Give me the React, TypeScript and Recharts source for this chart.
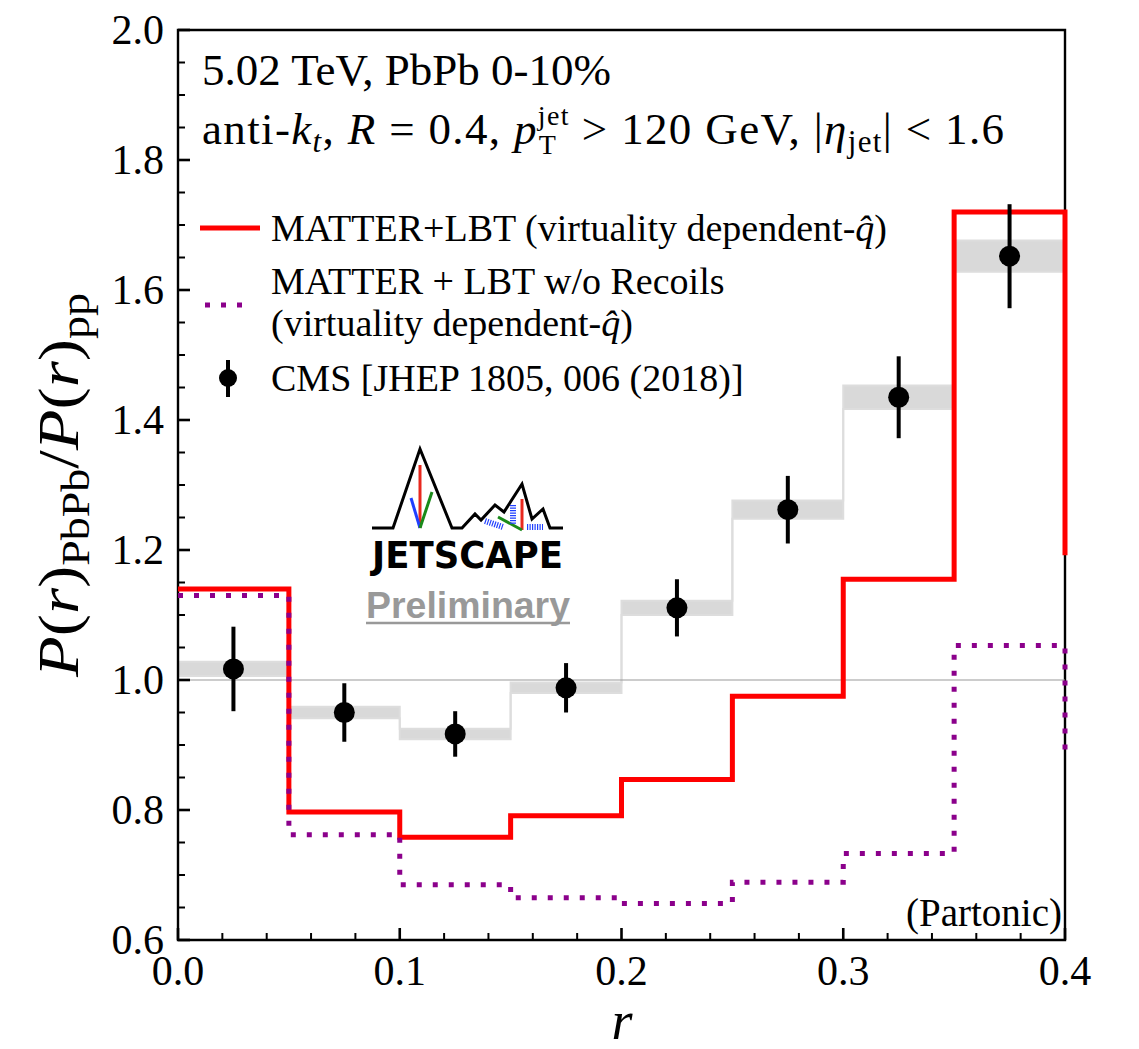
import React from "react";
import {
  ComposedChart,
  Line,
  Area,
  Scatter,
  ErrorBar,
  XAxis,
  YAxis,
  ReferenceLine,
  ReferenceArea,
} from "recharts";

// bins in r
const binEdges = [0, 0.05, 0.1, 0.15, 0.2, 0.25, 0.3, 0.35, 0.4];
const binCenters = [0.025, 0.075, 0.125, 0.175, 0.225, 0.275, 0.325, 0.375];

// MATTER+LBT (virtuality dependent q-hat)
const matterLbt = [1.14, 0.797, 0.758, 0.791, 0.847, 0.975, 1.155, 1.72];
const matterLbtEdge = 1.192;
// MATTER + LBT w/o recoils
const noRecoils = [1.13, 0.762, 0.685, 0.665, 0.656, 0.689, 0.733, 1.053];
const noRecoilsEdge = 0.888;

// CMS data, stat errors and systematic half-widths
const cmsRatio = [1.017, 0.95, 0.917, 0.988, 1.111, 1.262, 1.435, 1.652];
const cmsStat = [0.065, 0.045, 0.035, 0.038, 0.044, 0.052, 0.063, 0.08];
const cmsSys = [0.011, 0.009, 0.008, 0.008, 0.011, 0.014, 0.018, 0.024];

const xMajor = [0, 0.1, 0.2, 0.3, 0.4];
const xLabels = ["0.0", "0.1", "0.2", "0.3", "0.4"];
const yMajor = [0.6, 0.8, 1.0, 1.2, 1.4, 1.6, 1.8, 2.0];
const yLabels = ["0.6", "0.8", "1.0", "1.2", "1.4", "1.6", "1.8", "2.0"];

const serif = "Liberation Serif, Tinos, Times New Roman, serif";

const xTicks: number[] = [];
for (let i = 0; i <= 20; i++) xTicks.push(+(i * 0.02).toFixed(2));
const yTicks: number[] = [];
for (let i = 0; i <= 28; i++) yTicks.push(+(0.6 + i * 0.05).toFixed(2));

const stepData = (vals: number[], tail: number) => [
  ...vals.map((v, i) => ({ x: binEdges[i], y: v })),
  { x: 0.4, y: vals[vals.length - 1] },
  { x: 0.4, y: tail },
];

const redData = stepData(matterLbt, matterLbtEdge);
const purpleData = stepData(noRecoils, noRecoilsEdge);
const bandData = binEdges.map((x, i) => {
  const j = Math.min(i, cmsRatio.length - 1);
  return { x, band: [cmsRatio[j] - cmsSys[j], cmsRatio[j] + cmsSys[j]] };
});
const cmsData = binCenters.map((x, i) => ({ x, y: cmsRatio[i], err: cmsStat[i] }));

const YTick = (props: any) => {
  const { x, y, payload } = props;
  const idx = yMajor.findIndex((v) => Math.abs(v - payload.value) < 1e-6);
  const major = idx >= 0;
  return (
    <g>
      <line x1={x} x2={x + (major ? 12 : 7)} y1={y} y2={y} stroke="#000" strokeWidth={major ? 2.6 : 2} />
      {major && (
        <text x={x - 14} y={y + 14} textAnchor="end" fontSize={42} fontFamily={serif} fill="#000">
          {yLabels[idx]}
        </text>
      )}
    </g>
  );
};

const XTick = (props: any) => {
  const { x, y, payload } = props;
  const idx = xMajor.findIndex((v) => Math.abs(v - payload.value) < 1e-6);
  const major = idx >= 0;
  return (
    <g>
      <line x1={x} x2={x} y1={y} y2={y - (major ? 12 : 7)} stroke="#000" strokeWidth={major ? 2.6 : 2} />
      {major && (
        <text x={x} y={y + 45} textAnchor="middle" fontSize={42} fontFamily={serif} fill="#000">
          {xLabels[idx]}
        </text>
      )}
    </g>
  );
};

const Dot = (p: any) => <circle cx={p.cx} cy={p.cy} r={10.5} fill="#000" />;

const Overlay = () => (
  <svg
    width={1123}
    height={1033}
    style={{ position: "absolute", left: 0, top: 0, overflow: "visible", pointerEvents: "none" }}
  >
    <g fontFamily={serif} fill="#000" fontSize={45}>
      <text x={194} y={77}>5.02 TeV, PbPb 0-10%</text>
      <text x={194} y={136} textLength={802} lengthAdjust="spacing">
        anti-<tspan fontStyle="italic">k</tspan>
        <tspan fontSize={31} fontStyle="italic" dy={8}>t</tspan>
        <tspan dy={-8}>{", "}</tspan>
        <tspan fontStyle="italic">R</tspan>
        <tspan>{" = 0.4, "}</tspan>
        <tspan fontStyle="italic">p</tspan>
        <tspan fontSize={28} dy={-19}>jet</tspan>
        <tspan fontSize={28} dx={-31} dy={29}>T</tspan>
        <tspan dx={12} dy={-10}>{" > 120 GeV, |"}</tspan>
        <tspan fontStyle="italic">η</tspan>
        <tspan fontSize={31} dy={8}>jet</tspan>
        <tspan dy={-8}>{"| < 1.6"}</tspan>
      </text>

      {/* legend */}
      <g fontSize={38}>
        <line x1={192} x2={252} y1={220} y2={220} stroke="#ff0000" strokeWidth={5} />
        <text x={263} y={233}>
          MATTER+LBT (virtuality dependent-<tspan fontStyle="italic">{"q\u0302"}</tspan>)
        </text>
        <line x1={197} x2={236} y1={297} y2={297} stroke="#8b008b" strokeWidth={5} strokeDasharray="5 11" />
        <text x={263} y={286}>MATTER + LBT w/o Recoils</text>
        <text x={263} y={328}>
          (virtuality dependent-<tspan fontStyle="italic">{"q\u0302"}</tspan>)
        </text>
        <line x1={220} x2={220} y1={352} y2={389} stroke="#000" strokeWidth={4} />
        <circle cx={220} cy={370} r={9} fill="#000" />
        <text x={263} y={383}>CMS [JHEP 1805, 006 (2018)]</text>
      </g>

      <text x={1054} y={918} textAnchor="end" fontSize={39}>(Partonic)</text>

      {/* axis titles */}
      <text x={614} y={1031} textAnchor="middle" fontSize={54} fontStyle="italic">r</text>
      <text
        transform="translate(70,477) rotate(-90)"
        textAnchor="middle"
        fontSize={58}
        textLength={384}
        lengthAdjust="spacingAndGlyphs"
      >
        <tspan fontStyle="italic">P</tspan>(<tspan fontStyle="italic">r</tspan>)
        <tspan fontSize={40} dy={11}>PbPb</tspan>
        <tspan dy={-11}>/</tspan>
        <tspan fontStyle="italic">P</tspan>(<tspan fontStyle="italic">r</tspan>)
        <tspan fontSize={40} dy={11}>pp</tspan>
      </text>
    </g>

    {/* JETSCAPE logo */}
    <g>
      <polyline
        points="364,520 385,520 412,441 444,520 454,520 467,506 473,512 487,497 496,504 514,476 524,511 535,501 542,520 555,520"
        fill="none"
        stroke="#000"
        strokeWidth={3}
        strokeLinejoin="miter"
      />
      <line x1={412} y1={457} x2={412} y2={520} stroke="#e8281e" strokeWidth={3} />
      <line x1={403} y1={490} x2={412} y2={520} stroke="#1f3fff" strokeWidth={3} />
      <line x1={424} y1={484} x2={412} y2={520} stroke="#1a8a1a" strokeWidth={3} />
      <line x1={514} y1={491} x2={514} y2={522} stroke="#e8281e" strokeWidth={3} />
      <line x1={490} y1={509} x2={514} y2={522} stroke="#1a8a1a" strokeWidth={3} />
      <line x1={477} y1={513} x2={495} y2={519} stroke="#2040ff" strokeWidth={6} strokeDasharray="1.2 1.3" />
      <line x1={505} y1={497} x2={505} y2={516} stroke="#2040ff" strokeWidth={6} strokeDasharray="1.2 1.3" />
      <line x1={519} y1={519} x2={535} y2={519} stroke="#2040ff" strokeWidth={6} strokeDasharray="1.2 1.3" />
      <text
        x={364}
        y={560}
        fontFamily="DejaVu Sans, sans-serif"
        fontWeight="bold"
        fontSize={38}
        textLength={191}
        lengthAdjust="spacingAndGlyphs"
        fill="#000"
      >
        JETSCAPE
      </text>
      <text
        x={358}
        y={610}
        fontFamily="Liberation Sans, Arial, sans-serif"
        fontWeight="bold"
        fontSize={36}
        textLength={204}
        lengthAdjust="spacingAndGlyphs"
        fill="#999999"
      >
        Preliminary
      </text>
      <line x1={358} x2={562} y1={615} y2={615} stroke="#999999" strokeWidth={2.5} />
    </g>
  </svg>
);

export default function App() {
  return (
    <div style={{ position: "relative", width: 1123, height: 1033, background: "#fff" }}>
      <ComposedChart width={1123} height={1033} margin={{ top: 22, right: 66, bottom: 61, left: 110 }}>
        <XAxis
          dataKey="x"
          type="number"
          domain={[0, 0.4]}
          ticks={xTicks}
          interval={0}
          height={40}
          tickSize={0}
          tickMargin={0}
          tickLine={false}
          axisLine={false}
          tick={<XTick />}
        />
        <YAxis
          type="number"
          domain={[0.6, 2]}
          ticks={yTicks}
          interval={0}
          width={60}
          tickSize={0}
          tickMargin={0}
          tickLine={false}
          axisLine={false}
          tick={<YTick />}
        />
        <Area
          data={bandData}
          dataKey="band"
          type="stepAfter"
          fill="#d9d9d9"
          fillOpacity={1}
          stroke="#dddddd"
          strokeWidth={2}
          dot={false}
          activeDot={false}
          isAnimationActive={false}
        />
        <ReferenceLine y={1} stroke="#999999" strokeWidth={1.2} />
        <Line
          data={redData}
          dataKey="y"
          type="stepAfter"
          stroke="#ff0000"
          strokeWidth={5}
          dot={false}
          activeDot={false}
          isAnimationActive={false}
        />
        <Line
          data={purpleData}
          dataKey="y"
          type="stepAfter"
          stroke="#8b008b"
          strokeWidth={5}
          strokeDasharray="5 11"
          dot={false}
          activeDot={false}
          isAnimationActive={false}
        />
        <Scatter data={cmsData} dataKey="y" fill="#000" shape={<Dot />} isAnimationActive={false}>
          <ErrorBar dataKey="err" direction="y" width={0} strokeWidth={4} stroke="#000" />
        </Scatter>
        <ReferenceArea x1={0} x2={0.4} y1={0.6} y2={2} fill="none" fillOpacity={0} stroke="#000" strokeWidth={2.4} />
      </ComposedChart>
      <Overlay />
    </div>
  );
}
